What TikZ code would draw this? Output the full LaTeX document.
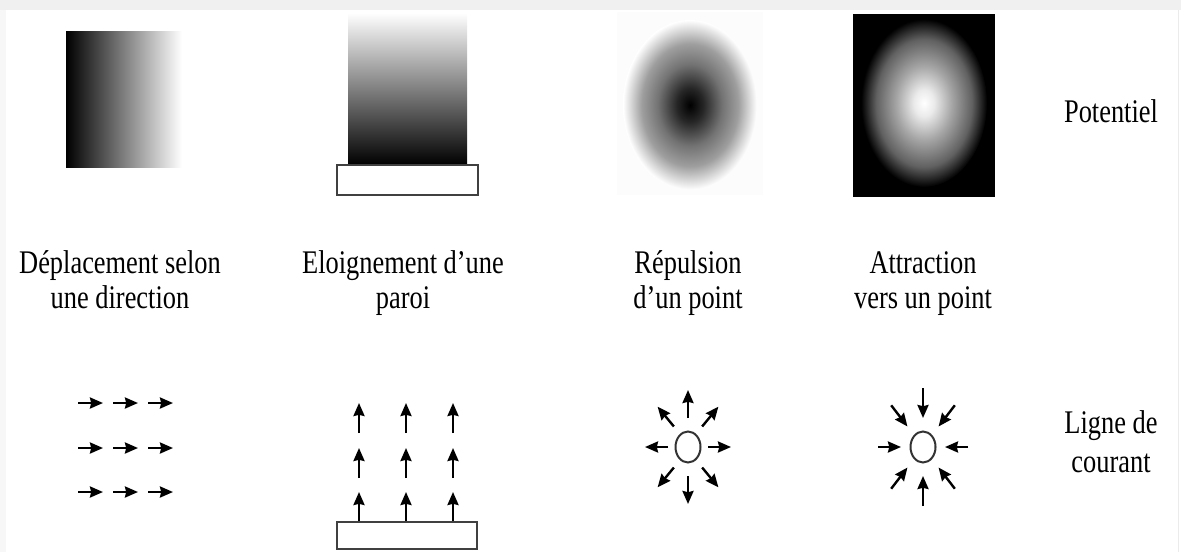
\documentclass[tikz,border=0pt]{standalone}
\usepackage{fontspec}
\setmainfont{Liberation Serif}[FakeStretch=0.8]
\usetikzlibrary{arrows.meta}

\pgfdeclareradialshading{repel}{\pgfpoint{0bp}{0bp}}{color(0bp)=(black); color(5bp)=(black!85); color(12bp)=(black!55); color(18bp)=(black!38); color(22bp)=(black!16); color(25bp)=(white); color(50bp)=(white)}
\pgfdeclareradialshading{attract}{\pgfpoint{0bp}{0bp}}{color(0bp)=(white); color(4bp)=(black!8); color(11bp)=(black!35); color(19bp)=(black!62); color(25bp)=(black); color(50bp)=(black)}

\begin{document}
\begin{tikzpicture}[>={Stealth[length=6.5pt,width=5.5pt,inset=0.6pt]}, x=0.5pt, y=-0.5pt,
    fl/.style={->, line width=1.2pt},
    wall/.style={draw=black!75, line width=1pt, fill=white},
    lbl/.style={align=center, inner sep=0pt, anchor=base, text=black,
        font=\fontsize{16.5}{17.5}\selectfont}]
        \useasboundingbox (0,0) rectangle (1181,552);
        \fill [black!6] (0,0) rectangle (1181,10);
        \fill [black!3] (0,10) rectangle (6,552);
        \draw [black!8] (1178,10) -- (1178,552);
        % potentials
        \shade [left color=black, right color=white] (66,31) rectangle (182,167);
        \shade [top color=white, bottom color=black] (348,13) rectangle (467,165);
        \draw [wall] (337,165) rectangle (478,195);
        \fill [black!1] (617,12) rectangle (763,195);
        \shade [shading=repel] (690,105) ellipse [x radius=67, y radius=85];
        \fill [black] (853,14) rectangle (995,197);
        \shade [shading=attract] (924,103) ellipse [x radius=63, y radius=84];
        \node [lbl] (pot) at (1111,122) {Potentiel};
        % names (base = last line)
        \node [lbl] (dep) at (120,308) {Déplacement selon\\une direction};
        \node [lbl] (elo) at (403,308) {Eloignement d’une\\paroi};
        \node [lbl] (rpl) at (688,308) {Répulsion\\d’un point};
        \node [lbl] (att) at (923,308) {Attraction\\vers un point};
        % streamlines
        \foreach \r in {403,448,492}
            \foreach \c in {78,113,148}
                \draw [fl] (\c,\r) -- ++(25,0);
        \foreach \c in {359,406,453}
            \foreach \r in {433,478,522}
                \draw [fl] (\c,\r) -- ++(0,-30);
        \draw [wall] (337,522) rectangle (477,549);
        \coordinate (src) at (688,447);
        \draw [line width=1pt, black!80] (src) ellipse [x radius=12.5, y radius=15.5];
        \foreach \a in {0,45,...,315}
            \draw [fl, shift={(src)}] (\a:20 and 29) -- (\a:43 and 57);
        \coordinate (snk) at (923,447);
        \draw [line width=1pt, black!80] (snk) ellipse [x radius=12.5, y radius=15.5];
        \foreach \a in {0,45,...,315}
            \draw [fl, shift={(snk)}] (\a:45 and 59) -- (\a:22 and 29);
        \node [lbl, font=\fontsize{16.5}{19.5}\selectfont] (lig) at (1111,472) {Ligne de\\courant};
    \end{tikzpicture}
\end{document}
